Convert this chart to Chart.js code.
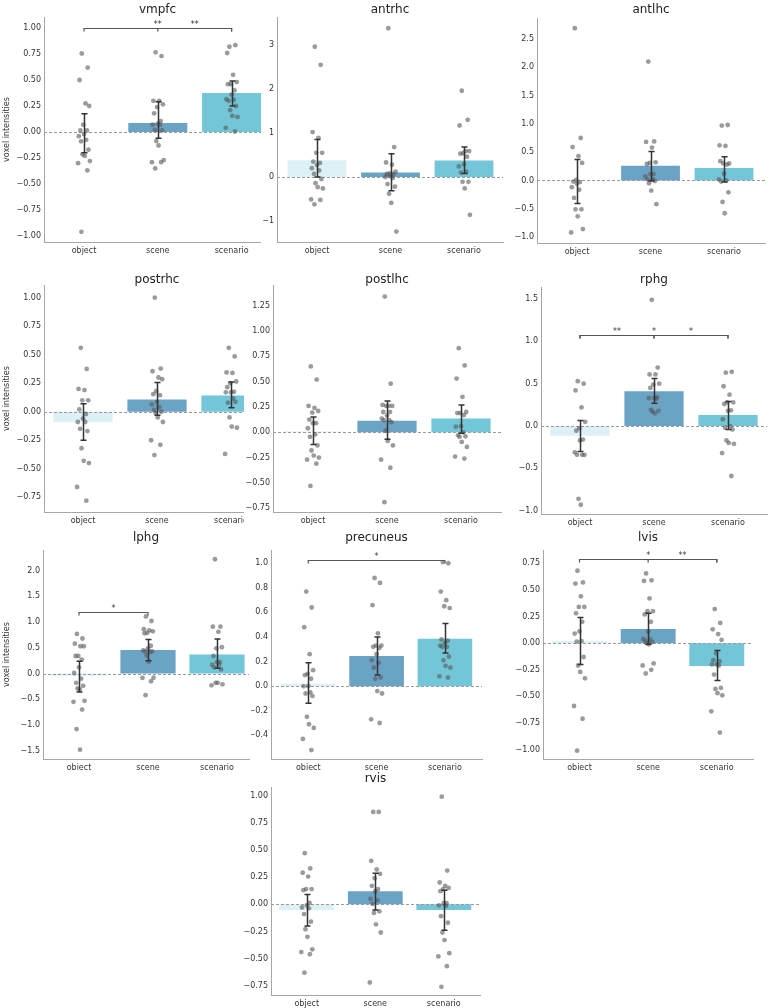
<!DOCTYPE html>
<html>
<head>
<meta charset="utf-8">
<script src="https://cdn.jsdelivr.net/npm/chart.js@4.4.1/dist/chart.umd.min.js"></script>
<style>
  body { margin: 0; background: #fff; }
  #fig { position: relative; width: 770px; height: 1008px; overflow: hidden; background: #fff; }
  #fig canvas { position: absolute; background: #fff; }
</style>
</head>
<body>
<div id="fig"></div>
<script>
// ---- data ----
const CATEGORIES = ['object', 'scene', 'scenario'];
const REGIONS = ['vmpfc', 'antrhc', 'antlhc', 'postrhc', 'postlhc', 'rphg', 'lphg', 'precuneus', 'lvis', 'rvis'];

// bar heights (means) per region: object, scene, scenario
const MEANS = [
    [0.0, 0.087, 0.375],
    [0.38, 0.105, 0.376],
    [-0.01, 0.26, 0.22],
    [-0.093, 0.108, 0.142],
    [0.008, 0.115, 0.135],
    [-0.115, 0.41, 0.13],
    [-0.045, 0.455, 0.37],
    [0.02, 0.246, 0.386],
    [0.02, 0.133, -0.215],
    [-0.052, 0.12, -0.052]
];
const CI_LOW = [
    [-0.20, -0.06, 0.25],
    [0.0, -0.31, 0.08],
    [-0.41, -0.01, -0.03],
    [-0.25, -0.03, 0.035],
    [-0.12, -0.07, -0.01],
    [-0.30, 0.27, -0.04],
    [-0.36, 0.25, 0.10],
    [-0.14, 0.09, 0.27],
    [-0.20, -0.01, -0.35],
    [-0.20, -0.052, -0.24]
];
const CI_HIGH = [
    [0.175, 0.29, 0.49],
    [0.85, 0.53, 0.68],
    [0.37, 0.51, 0.42],
    [0.07, 0.256, 0.26],
    [0.15, 0.31, 0.27],
    [0.065, 0.56, 0.29],
    [0.24, 0.66, 0.67],
    [0.19, 0.40, 0.51],
    [0.24, 0.28, -0.07],
    [0.09, 0.286, 0.13]
];

// individual subject values
const POINTS_OBJECT = [
    [0.755, 0.62, 0.50, 0.275, 0.25, 0.07, 0.015, 0.015, -0.02, -0.04, -0.075, -0.09, -0.17, -0.215, -0.23, -0.28, -0.30, -0.37, -0.96],
    [2.96, 2.55, 1.02, 0.89, 0.55, 0.55, 0.35, 0.32, 0.27, 0.20, 0.15, 0.07, -0.045, -0.14, -0.23, -0.26, -0.51, -0.52, -0.62],
    [2.69, 0.75, 0.59, 0.43, 0.31, 0.01, -0.02, -0.03, -0.06, -0.12, -0.165, -0.31, -0.51, -0.51, -0.635, -0.86, -0.92],
    [0.56, 0.375, 0.20, 0.19, 0.10, 0.10, 0.02, -0.02, -0.06, -0.09, -0.09, -0.15, -0.17, -0.32, -0.43, -0.45, -0.66, -0.78],
    [0.65, 0.52, 0.26, 0.24, 0.21, 0.195, 0.125, 0.09, 0.09, 0.04, -0.02, -0.045, -0.13, -0.18, -0.23, -0.25, -0.27, -0.31, -0.53],
    [0.53, 0.50, 0.42, 0.22, 0.05, -0.025, -0.055, -0.16, -0.17, -0.31, -0.34, -0.34, -0.34, -0.86, -0.93],
    [0.77, 0.68, 0.58, 0.53, 0.53, 0.34, 0.34, 0.27, 0.12, 0.01, -0.10, -0.18, -0.24, -0.29, -0.31, -0.53, -0.55, -0.70, -1.08, -1.48],
    [0.77, 0.64, 0.48, 0.26, 0.13, 0.10, 0.09, 0.06, 0.0, 0.0, -0.05, -0.06, -0.08, -0.25, -0.31, -0.34, -0.43, -0.52],
    [0.68, 0.57, 0.56, 0.44, 0.34, 0.34, 0.28, 0.20, 0.11, 0.09, 0.02, 0.015, -0.13, -0.21, -0.27, -0.33, -0.59, -0.71, -1.01],
    [0.47, 0.33, 0.29, 0.255, 0.14, 0.14, 0.13, 0.012, -0.01, -0.03, -0.037, -0.09, -0.16, -0.23, -0.30, -0.415, -0.44, -0.46, -0.63]
];
const POINTS_SCENE = [
    [0.766, 0.73, 0.30, 0.30, 0.266, 0.24, 0.18, 0.105, 0.08, 0.07, 0.07, 0.02, 0.016, -0.087, -0.13, -0.27, -0.29, -0.29, -0.35],
    [3.38, 0.68, 0.33, 0.28, 0.12, 0.08, 0.07, 0.07, 0.02, 0.0, -0.02, -0.16, -0.22, -0.38, -0.59, -1.24],
    [2.10, 0.69, 0.68, 0.58, 0.32, 0.31, 0.29, 0.11, 0.11, 0.07, 0.02, 0.02, -0.01, -0.05, -0.18, -0.42],
    [1.0, 0.378, 0.355, 0.30, 0.285, 0.18, 0.154, 0.145, 0.087, 0.064, 0.04, 0.015, 0.0, -0.01, -0.05, -0.09, -0.25, -0.29, -0.38],
    [1.34, 0.48, 0.27, 0.26, 0.26, 0.26, 0.20, 0.20, 0.165, 0.135, 0.12, 0.12, 0.10, 0.016, -0.085, -0.13, -0.27, -0.35, -0.69],
    [1.49, 0.69, 0.61, 0.61, 0.50, 0.49, 0.45, 0.34, 0.33, 0.33, 0.32, 0.19, 0.18, 0.17, 0.15],
    [1.11, 1.02, 0.86, 0.84, 0.82, 0.79, 0.78, 0.54, 0.49, 0.45, 0.42, 0.43, 0.43, 0.35, 0.23, -0.08, -0.085, -0.15, -0.42],
    [0.88, 0.84, 0.66, 0.43, 0.33, 0.33, 0.32, 0.31, 0.26, 0.21, 0.19, 0.15, 0.07, 0.06, -0.04, -0.06, -0.27, -0.30],
    [0.655, 0.59, 0.585, 0.42, 0.30, 0.30, 0.27, 0.20, 0.11, 0.04, 0.035, 0.02, 0.01, 0.0, -0.01, -0.19, -0.21, -0.25, -0.285],
    [0.85, 0.85, 0.40, 0.32, 0.28, 0.24, 0.17, 0.14, 0.12, 0.05, 0.035, 0.003, -0.065, -0.08, -0.185, -0.26, -0.72]
];
const POINTS_SCENARIO = [
    [0.82, 0.835, 0.76, 0.55, 0.48, 0.46, 0.46, 0.40, 0.36, 0.315, 0.31, 0.30, 0.25, 0.21, 0.155, 0.145, 0.04, 0.005],
    [1.96, 1.30, 1.17, 0.59, 0.59, 0.54, 0.53, 0.46, 0.29, 0.24, 0.12, 0.10, -0.11, -0.11, -0.26, -0.86],
    [0.97, 0.98, 0.62, 0.61, 0.30, 0.30, 0.34, 0.28, 0.12, 0.02, 0.0, -0.02, -0.21, -0.38, -0.58],
    [0.56, 0.485, 0.345, 0.34, 0.265, 0.25, 0.215, 0.175, 0.17, 0.17, 0.116, 0.08, 0.087, -0.05, -0.13, -0.14, -0.37],
    [0.83, 0.66, 0.53, 0.35, 0.20, 0.19, 0.19, 0.17, 0.06, 0.055, 0.0, -0.03, -0.04, -0.045, -0.095, -0.145, -0.24, -0.26],
    [0.63, 0.64, 0.47, 0.37, 0.28, 0.28, 0.26, 0.185, 0.18, 0.08, 0.0, -0.02, -0.04, -0.17, -0.20, -0.21, -0.32, -0.59],
    [2.22, 0.91, 0.91, 0.81, 0.51, 0.49, 0.34, 0.22, 0.22, 0.17, 0.17, 0.12, 0.08, -0.18, -0.18, -0.21, -0.23],
    [1.01, 1.0, 0.77, 0.70, 0.635, 0.65, 0.38, 0.37, 0.35, 0.33, 0.32, 0.32, 0.24, 0.21, 0.165, 0.15, 0.08, 0.07],
    [0.32, 0.19, 0.13, 0.085, 0.03, -0.095, -0.16, -0.17, -0.20, -0.20, -0.21, -0.295, -0.42, -0.43, -0.47, -0.49, -0.64, -0.84],
    [0.99, 0.31, 0.20, 0.17, 0.15, 0.14, 0.12, 0.01, 0.01, -0.01, -0.015, -0.11, -0.17, -0.26, -0.33, -0.45, -0.48, -0.57, -0.76]
];

const Y_TICK_LABELS = [
    ['1.00', '0.75', '0.50', '0.25', '0.00', '−0.25', '−0.50', '−0.75', '−1.00'],
    ['3', '2', '1', '0', '−1'],
    ['2.5', '2.0', '1.5', '1.0', '0.5', '0.0', '−0.5', '−1.0'],
    ['1.00', '0.75', '0.50', '0.25', '0.00', '−0.25', '−0.50', '−0.75'],
    ['1.25', '1.00', '0.75', '0.50', '0.25', '0.00', '−0.25', '−0.50', '−0.75'],
    ['1.5', '1.0', '0.5', '0.0', '−0.5', '−1.0'],
    ['2.0', '1.5', '1.0', '0.5', '0.0', '−0.5', '−1.0', '−1.5'],
    ['1.0', '0.8', '0.6', '0.4', '0.2', '0.0', '−0.2', '−0.4'],
    ['0.75', '0.50', '0.25', '0.00', '−0.25', '−0.50', '−0.75', '−1.00'],
    ['1.00', '0.75', '0.50', '0.25', '0.00', '−0.25', '−0.50', '−0.75']
];

// significant pairs [from, to, stars] and the bracket height (data units)
const SIG_PAIRS = [
    [[0, 2, '**'], [1, 2, '**']],
    [], [], [], [],
    [[0, 1, '**'], [0, 2, '*'], [1, 2, '*']],
    [[0, 1, '*']],
    [[0, 2, '*']],
    [[0, 2, '*'], [1, 2, '**']],
    []
];
const SIG_HEIGHT = [1.0, 0, 0, 0, 0, 1.08, 1.19, 1.03, 0.79, 0];

// ---- layout (page pixels) ----
// x0..x1 / y0..y1: canvas box, l r t b: plot area, c0: first category pixel, s: category spacing
const PANELS = [
    { x0: 0,   x1: 272, y0: 0,   y1: 266,  l: 44,  r: 271, t: 17,  b: 242, c0: 84,    s: 73.8,  ty: 10,  ymin: -1.058, ymax: 1.106, ylabel: true },
    { x0: 261, x1: 506, y0: 0,   y1: 266,  l: 277, r: 503, t: 17,  b: 242, c0: 317,   s: 73.5,  ty: 10,  ymin: -1.477, ymax: 3.636 },
    { x0: 506, x1: 770, y0: 0,   y1: 266,  l: 537, r: 765, t: 18,  b: 243, c0: 577,   s: 73.5,  ty: 10,  ymin: -1.106, ymax: 2.871 },
    { x0: 0,   x1: 272, y0: 266, y1: 527,  l: 44,  r: 270, t: 285, b: 512, c0: 83,    s: 74,    ty: 280, ymin: -0.879, ymax: 1.111, ylabel: true },
    { x0: 244, x1: 506, y0: 266, y1: 527,  l: 273, r: 501, t: 285, b: 512, c0: 313,   s: 74,    ty: 280, ymin: -0.787, ymax: 1.454 },
    { x0: 508, x1: 770, y0: 266, y1: 527,  l: 541, r: 767, t: 287, b: 514, c0: 580,   s: 74,    ty: 280, ymin: -1.039, ymax: 1.642 },
    { x0: 0,   x1: 251, y0: 527, y1: 770,  l: 43,  r: 249, t: 550, b: 759, c0: 79,    s: 69,    ty: 538, ymin: -1.661, ymax: 2.40, ylabel: true },
    { x0: 251, x1: 490, y0: 527, y1: 770,  l: 271, r: 482, t: 550, b: 759, c0: 308.3, s: 68.3,  ty: 538, ymin: -0.593, ymax: 1.108 },
    { x0: 508, x1: 770, y0: 527, y1: 770,  l: 543, r: 753, t: 550, b: 759, c0: 579.5, s: 68.65, ty: 538, ymin: -1.088, ymax: 0.875 },
    { x0: 232, x1: 490, y0: 770, y1: 1008, l: 271, r: 480, t: 787, b: 995, c0: 306.8, s: 68.5,  ty: 779, ymin: -0.835, ymax: 1.079 }
];

const BAR_COLORS = ['#dcf0f6', '#6ba3c5', '#72c6d8'];
const POINT_COLOR = 'rgba(88, 88, 88, 0.6)';
const SPINE = '#a6a6a6';
const TEXT = '#333';
const FONT = 'DejaVu Sans';
// strip-plot jitter, in category units
const JITTER = [-0.03, 0.05, -0.06, 0.02, 0.07, -0.01, -0.05, 0.04, 0.0, -0.07, 0.03, -0.04, 0.06, -0.02, 0.01, 0.08, -0.08, 0.045, -0.035, 0.015];

Chart.defaults.font.family = FONT;

function jittered(values, k) {
    return values.map((v, j) => ({ x: k + JITTER[j % JITTER.length], y: v }));
}

function buildPanel(i) {
    const p = PANELS[i];
    const canvas = document.createElement('canvas');
    canvas.width = p.x1 - p.x0;
    canvas.height = p.y1 - p.y0;
    canvas.style.left = p.x0 + 'px';
    canvas.style.top = p.y0 + 'px';
    document.getElementById('fig').appendChild(canvas);

    const yLabels = Y_TICK_LABELS[i];
    const yValues = yLabels.map(s => parseFloat(s.replace('−', '-')));
    const points = [
        ...jittered(POINTS_OBJECT[i], 0),
        ...jittered(POINTS_SCENE[i], 1),
        ...jittered(POINTS_SCENARIO[i], 2)
    ];

    const extras = {
        id: 'extras' + i,
        afterDatasetDraw(chart, args) {
            if (args.meta.type !== 'bar') return;
            // dashed zero line over the bars
            const { ctx, chartArea: a, scales: { y } } = chart;
            const zy = Math.round(y.getPixelForValue(0)) + 0.5;
            ctx.save();
            ctx.strokeStyle = '#9a9a9a';
            ctx.lineWidth = 1;
            ctx.setLineDash([3, 2]);
            ctx.beginPath();
            ctx.moveTo(a.left, zy);
            ctx.lineTo(a.right, zy);
            ctx.stroke();
            ctx.restore();
        },
        afterDatasetsDraw(chart) {
            const { ctx, scales: { x, y } } = chart;
            ctx.save();
            // confidence intervals
            ctx.strokeStyle = '#333';
            ctx.lineWidth = 1.5;
            CATEGORIES.forEach((c, k) => {
                const px = Math.round(x.getPixelForValue(k)) + 0.5;
                const lo = y.getPixelForValue(CI_LOW[i][k]);
                const hi = y.getPixelForValue(CI_HIGH[i][k]);
                ctx.beginPath();
                ctx.moveTo(px, lo); ctx.lineTo(px, hi);
                ctx.moveTo(px - 3, lo); ctx.lineTo(px + 3, lo);
                ctx.moveTo(px - 3, hi); ctx.lineTo(px + 3, hi);
                ctx.stroke();
            });
            // significance brackets
            const pairs = SIG_PAIRS[i];
            if (pairs.length) {
                const by = Math.round(y.getPixelForValue(SIG_HEIGHT[i])) + 0.5;
                ctx.strokeStyle = '#555';
                ctx.lineWidth = 1.2;
                ctx.fillStyle = TEXT;
                ctx.font = '8px ' + FONT;
                ctx.textAlign = 'center';
                ctx.textBaseline = 'alphabetic';
                pairs.forEach(([a, b, stars]) => {
                    const xa = x.getPixelForValue(a);
                    const xb = x.getPixelForValue(b);
                    ctx.beginPath();
                    ctx.moveTo(xa, by + 3); ctx.lineTo(xa, by);
                    ctx.lineTo(xb, by); ctx.lineTo(xb, by + 3);
                    ctx.stroke();
                    ctx.fillText(stars, (xa + xb) / 2, by - 1.5);
                });
            }
            ctx.restore();
        }
    };

    new Chart(canvas, {
        type: 'bar',
        data: {
            datasets: [{
                type: 'scatter',
                data: points,
                backgroundColor: POINT_COLOR,
                borderWidth: 0,
                pointRadius: 2.4,
                order: 1
            }, {
                type: 'bar',
                data: MEANS[i].map((m, k) => ({ x: k, y: m })),
                backgroundColor: BAR_COLORS,
                borderWidth: 0,
                barPercentage: 0.8,
                categoryPercentage: 1,
                order: 2
            }]
        },
        options: {
            responsive: false,
            animation: false,
            events: [],
            layout: { autoPadding: false, padding: { left: 0, top: 0, bottom: 0, right: p.x1 - p.r } },
            plugins: {
                legend: { display: false },
                tooltip: { enabled: false },
                title: {
                    display: true,
                    text: REGIONS[i],
                    fullSize: false,
                    color: '#222',
                    font: { family: FONT, size: 12, weight: 'normal', lineHeight: 1 },
                    padding: { top: p.ty - p.y0 - 6, bottom: p.t - p.ty - 6 }
                }
            },
            scales: {
                x: {
                    type: 'linear',
                    min: (p.l - p.c0) / p.s,
                    max: (p.r - p.c0) / p.s,
                    offset: false,
                    grid: { display: false, drawTicks: false },
                    border: { display: true, color: SPINE, width: 1 },
                    ticks: {
                        font: { size: 8 }, color: TEXT, padding: 4,
                        autoSkip: false, maxRotation: 0,
                        callback: (v, k) => CATEGORIES[k]
                    },
                    afterBuildTicks: s => { s.ticks = CATEGORIES.map((c, k) => ({ value: k })); },
                    afterFit: s => { s.height = p.y1 - p.b; }
                },
                y: {
                    type: 'linear',
                    min: p.ymin,
                    max: p.ymax,
                    grid: { display: false, drawTicks: false },
                    border: { display: true, color: SPINE, width: 1 },
                    ticks: {
                        font: { size: 8 }, color: TEXT, padding: 3,
                        autoSkip: false,
                        callback: (v, k) => yLabels[k]
                    },
                    title: {
                        display: !!p.ylabel,
                        text: 'voxel intensities',
                        color: TEXT,
                        font: { size: 8 },
                        padding: { top: 2, bottom: 0 }
                    },
                    afterBuildTicks: s => { s.ticks = yValues.map(v => ({ value: v })); },
                    afterFit: s => { s.width = p.l - p.x0; }
                }
            }
        },
        plugins: [extras]
    });
}

REGIONS.forEach((r, i) => buildPanel(i));
</script>
</body>
</html>
